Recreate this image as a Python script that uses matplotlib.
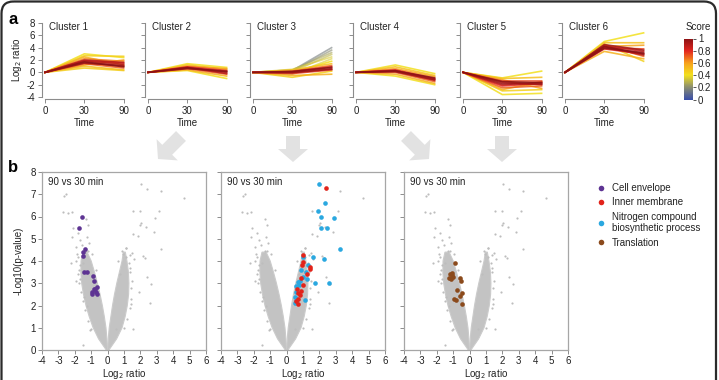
import numpy as np
import matplotlib
matplotlib.use('Agg')
import matplotlib.pyplot as plt
from matplotlib.colors import LinearSegmentedColormap
from matplotlib.patches import FancyBboxPatch, FancyArrow
from matplotlib.lines import Line2D
from matplotlib.cm import ScalarMappable

plt.rcParams['font.family'] = ['Liberation Sans', 'DejaVu Sans']
plt.rcParams['axes.unicode_minus'] = False

# ---------------- panel a: cluster profiles ----------------
# each profile: (log2 ratio at 30 min, log2 ratio at 90 min, score), start is 0 at time 0
time_labels = ['0', '30', '90']
cluster_names = ['Cluster 1', 'Cluster 2', 'Cluster 3', 'Cluster 4', 'Cluster 5', 'Cluster 6']
cluster1 = [(3.0, 2.4, 0.4), (2.7, 2.6, 0.45), (0.7, 0.3, 0.45), (1.0, 0.4, 0.5), (2.5, 1.2, 0.55),
            (1.2, 2.0, 0.6), (2.2, 1.8, 0.65), (1.4, 0.7, 0.7), (1.9, 1.5, 0.8), (1.6, 1.0, 0.85),
            (1.8, 1.3, 0.9), (2.0, 1.6, 0.9), (1.5, 1.1, 0.95), (1.7, 0.9, 1.0)]
cluster2 = [(1.4, 0.8, 0.4), (0.3, -1.0, 0.4), (1.2, 0.5, 0.5), (0.4, -0.6, 0.55), (1.0, 0.6, 0.6),
            (0.6, -0.3, 0.7), (0.9, 0.3, 0.8), (0.7, 0.0, 0.85), (0.8, -0.2, 0.9), (0.6, 0.2, 0.95),
            (0.75, 0.1, 1.0)]
cluster3 = [(0.3, 4.0, 0.15), (0.2, 3.6, 0.2), (0.4, 3.2, 0.25), (0.1, 2.9, 0.3), (0.5, 2.5, 0.35),
            (-0.3, 2.2, 0.35), (0.0, 1.8, 0.4), (-0.8, 0.2, 0.45), (0.4, 1.4, 0.5), (-0.5, -0.3, 0.55),
            (0.2, 1.1, 0.7), (-0.2, 0.4, 0.75), (0.1, 0.9, 0.85), (0.0, 0.6, 0.9), (-0.05, 0.5, 0.95),
            (0.15, 0.8, 1.0)]
cluster4 = [(1.2, -0.2, 0.4), (-0.6, -2.0, 0.4), (0.9, -0.5, 0.5), (-0.3, -1.8, 0.55), (0.6, -0.7, 0.6),
            (0.0, -1.5, 0.7), (0.4, -1.0, 0.8), (0.2, -1.3, 0.85), (0.3, -1.1, 0.9), (0.1, -1.2, 0.95),
            (0.25, -0.9, 1.0)]
cluster5 = [(-3.6, -3.4, 0.4), (-0.9, 0.2, 0.4), (-3.0, -2.8, 0.45), (-1.0, -0.8, 0.5), (-2.8, -1.5, 0.55),
            (-1.2, -2.6, 0.6), (-2.5, -2.2, 0.7), (-1.4, -1.4, 0.75), (-2.2, -1.8, 0.8), (-1.6, -2.0, 0.85),
            (-2.0, -1.6, 0.9), (-1.8, -1.9, 0.95), (-1.5, -1.7, 1.0)]
cluster6 = [(5.0, 6.4, 0.4), (4.6, 1.8, 0.45), (4.8, 4.8, 0.5), (3.4, 2.2, 0.55), (4.2, 4.4, 0.6),
            (4.4, 2.6, 0.7), (4.0, 3.8, 0.75), (3.8, 3.0, 0.8), (4.3, 3.4, 0.85), (4.1, 2.8, 0.9),
            (4.5, 3.6, 0.95), (3.9, 3.2, 1.0), (4.2, 3.0, 1.0)]
clusters = [cluster1, cluster2, cluster3, cluster4, cluster5, cluster6]
log2_ticks = [-4, -2, 0, 2, 4, 6, 8]
score_ticks = [0, 0.2, 0.4, 0.6, 0.8, 1]

# ---------------- panel b: volcano plots (90 vs 30 min) ----------------
# dense V-shaped cloud of proteins: outline of each arm
arm_y = [0.0, 0.5, 1.0, 1.5, 2.0, 2.5, 3.0, 3.5, 4.0, 4.4]
left_outer = [-0.08, -0.55, -0.88, -1.12, -1.32, -1.47, -1.58, -1.63, -1.62, -1.5]
left_inner = [0.0, -0.04, -0.1, -0.2, -0.32, -0.46, -0.62, -0.8, -1.0, -1.25]
right_outer = [0.08, 0.55, 0.88, 1.07, 1.2, 1.28, 1.3, 1.27, 1.18, 1.08]
right_inner = [0.0, 0.04, 0.1, 0.2, 0.3, 0.42, 0.56, 0.72, 0.88, 0.96]

# scattered proteins outside the dense cloud
grey_x = [2.02, 2.42, 3.24, 4.64, 1.55, 1.95, 3.13, 2.87, 2.05, 2.36, 1.95, 2.83, 1.55, 1.85, 3.28,
          1.14, 1.35, 2.26, 2.67, 2.57, 1.55, 2.38, 1.12, 1.5, 1.6, 2.18,
          -2.66, -2.56, -2.7, -2.39, -2.18, -1.32, -1.18, -2.09, -1.79, -2.18, -1.68, -1.28, -1.93,
          -1.18, -1.79, -1.48, -2.25, -1.95, -1.52, -1.07,
          -1.7, -1.8, -1.72, -1.6, -1.52, -1.4, -1.2, -1.02, -1.75, -1.85, -1.55, -1.15, -0.95, -0.72,
          -1.9, -1.68, -1.45, -1.25, -1.3,
          1.42, 1.45, 1.38, 1.2, 1.02, 1.38, 1.3, 0.95, 0.75, 1.5, 0.65, 0.5, 1.9,
          1.45, 1.35, 1.1, 0.9]
grey_y = [7.45, 7.24, 7.15, 6.85, 6.26, 6.26, 6.25, 5.92, 5.69, 5.54, 5.6, 5.32, 5.21, 5.14, 4.54,
          4.57, 4.27, 4.15, 2.97, 2.1, 0.93, 3.29, 4.6, 4.35, 4.1, 4.22,
          6.94, 7.0, 6.19, 6.14, 6.2, 5.87, 5.62, 5.5, 5.24, 5.1, 4.94, 5.09, 4.64,
          4.46, 4.2, 3.9, 3.92, 3.12, 0.22, 0.9,
          3.8, 3.4, 3.0, 2.6, 2.2, 1.8, 1.3, 0.95, 3.6, 4.3, 4.7, 4.8, 4.3, 3.6,
          4.0, 3.2, 2.4, 2.0, 4.45,
          2.8, 2.3, 1.9, 1.4, 1.0, 3.5, 3.9, 4.3, 3.4, 3.1, 4.0, 0.95, 2.6,
          2.05, 3.7, 4.2, 4.45]

cell_env_x = [-1.58, -1.72, -1.35, -1.5, -1.48, -1.42, -1.25, -0.88, -0.8, -0.62, -0.75, -0.68,
              -0.95, -0.95, -0.65, -0.8]
cell_env_y = [6.0, 5.5, 4.55, 4.4, 4.22, 3.5, 3.52, 3.32, 3.12, 2.85, 2.75, 2.62, 2.6, 2.5, 2.5, 2.72]

nitrogen_x = [2.0, 2.36, 1.94, 2.1, 2.87, 2.1, 2.44, 3.25, 2.3, 2.6, 1.76, 1.03, 1.6, 1.33, 0.89, 0.97,
              1.27, 0.69, 0.79, 0.55, 0.55, 0.49, 1.1, 0.49, 1.2, 0.6, 0.75]
nitrogen_y = [7.45, 6.59, 6.26, 5.96, 5.92, 5.47, 5.5, 4.54, 4.1, 3.01, 3.0, 4.17, 4.2, 3.82, 3.6, 3.3,
              3.18, 3.07, 3.1, 2.87, 2.6, 2.4, 2.25, 2.12, 3.5, 2.2, 2.9]
inner_mem_x = [2.4, 0.99, 0.91, 1.43, 1.42, 1.25, 0.88, 0.97, 0.88, 0.7, 0.8, 0.7, 0.55, 0.7, 1.0, 0.62]
inner_mem_y = [7.27, 4.27, 3.8, 3.75, 3.65, 3.42, 3.25, 2.9, 2.66, 2.55, 2.48, 2.3, 2.2, 2.07, 3.95, 2.75]

translation_x = [-0.89, -1.2, -1.1, -1.25, -1.12, -1.0, -1.05, -0.58, -0.55, -0.75, -0.48, -0.6,
                 -0.98, -0.85, -0.48]
translation_y = [3.93, 3.4, 3.48, 3.25, 3.18, 3.28, 3.38, 3.25, 3.12, 2.7, 2.58, 2.42, 2.28, 2.25, 2.07]

# ---------------- styling ----------------
W, H = 719, 380
score_cmap = LinearSegmentedColormap.from_list(
    'score', [(0, '#3a4fa8'), (0.2, '#8a8d70'), (0.4, '#f2e01e'), (0.6, '#f7a11c'),
              (0.8, '#e2251f'), (1.0, '#8a1214')])
spine_col = '#8c8c8c'
txt_col = '#222222'
c_purple, c_red, c_blue, c_brown = '#5e3493', '#e2231a', '#2aa8e0', '#8b4a1c'


def px_axes(fig, left, top, width, height):
    return fig.add_axes([left / W, 1 - (top + height) / H, width / W, height / H])


fig = plt.figure(figsize=(W / 100, H / 100), dpi=100)

# overlay in pixel coordinates: frame, arrows, panel letters
bg = fig.add_axes([0, 0, 1, 1], zorder=-1)
bg.set_xlim(0, W)
bg.set_ylim(H, 0)
bg.axis('off')
bg.add_patch(FancyBboxPatch((1.5, 1.5), 714.5, 420, boxstyle='round,pad=0,rounding_size=12',
                            fc='none', ec='#2b2b2b', lw=1.6))
arrow_kw = dict(width=14, head_width=30, head_length=13, length_includes_head=True,
                fc='#e2e2e2', ec='none')
bg.add_patch(FancyArrow(181, 136, -23, 23, **arrow_kw))
bg.add_patch(FancyArrow(293, 136, 0, 26, **arrow_kw))
bg.add_patch(FancyArrow(406, 136, 23, 23, **arrow_kw))
bg.add_patch(FancyArrow(502, 136, 0, 26, **arrow_kw))
bg.text(13, 20, 'a', fontsize=12, fontweight='bold', va='center', ha='center')
bg.text(13, 168, 'b', fontsize=12, fontweight='bold', va='center', ha='center')

# ---- panel a ----
zero_px = [45, 148, 253, 356, 463, 565]
ux = 39.3       # px per time step
uy = 6.17       # px per log2 unit
for i, (name, prof) in enumerate(zip(cluster_names, clusters)):
    x0 = zero_px[i] - 3
    ax = px_axes(fig, x0, 23 - 0.2 * uy, 2.15 * ux, 12.45 * uy)
    ax.set_xlim(-3 / ux, 2.15 - 3 / ux)
    ax.set_ylim(-4.25, 8.2)
    ax.patch.set_alpha(0)
    for v30, v90, sc in sorted(prof, key=lambda p: p[2]):
        ax.plot([0, 1, 2], [0, v30, v90], color=score_cmap(sc), lw=1.2,
                alpha=0.6 if sc < 0.4 else 0.85, solid_joinstyle='round')
    for s in ['top', 'right']:
        ax.spines[s].set_visible(False)
    ax.spines['left'].set_bounds(-4, 8)
    ax.spines['bottom'].set_bounds(0, 2)
    for s in ['left', 'bottom']:
        ax.spines[s].set_color(spine_col)
        ax.spines[s].set_linewidth(0.8)
    ax.set_xticks([0, 1, 2])
    ax.set_xticklabels(time_labels)
    ax.set_yticks(log2_ticks)
    ax.tick_params(length=3, width=0.7, color=spine_col, labelsize=7, labelcolor=txt_col, pad=2)
    if i == 0:
        ax.set_yticklabels([str(t) for t in log2_ticks])
        ax.set_ylabel('Log$_2$ ratio', fontsize=7, color=txt_col, labelpad=2)
    else:
        ax.set_yticklabels([])
    ax.set_xlabel('Time', fontsize=7, color=txt_col, labelpad=2)
    ax.text(0.08, 0.93, name, transform=ax.transAxes, fontsize=7, color=txt_col, va='center')

# colorbar
cax = px_axes(fig, 684, 38.5, 9, 61)
cb = fig.colorbar(ScalarMappable(cmap=score_cmap, norm=plt.Normalize(0, 1)), cax=cax)
cb.set_ticks(score_ticks)
cb.set_ticklabels(['0', '0.2', '0.4', '0.6', '0.8', '1'])
cb.outline.set_visible(False)
cax.tick_params(length=2.5, width=0.7, color='#555555', labelsize=7, labelcolor=txt_col, pad=1)
bg.text(698, 27, 'Score', fontsize=7, color=txt_col, ha='center', va='center')

# ---- panel b ----
arm_left_x = np.concatenate([left_outer, left_inner[::-1]])
arm_right_x = np.concatenate([right_outer, right_inner[::-1]])
arm_poly_y = np.concatenate([arm_y, arm_y[::-1]])
highlights = [
    [(cell_env_x, cell_env_y, c_purple)],
    [(nitrogen_x, nitrogen_y, c_blue), (inner_mem_x, inner_mem_y, c_red)],
    [(translation_x, translation_y, c_brown)],
]
for i, left in enumerate([42, 221, 404]):
    ax = px_axes(fig, left, 172, 164, 178)
    ax.set_xlim(-4, 6)
    ax.set_ylim(0, 8)
    ax.fill(arm_left_x, arm_poly_y, color='#c3c3c3', lw=0.8, ec='#cbcbcb')
    ax.fill(arm_right_x, arm_poly_y, color='#c3c3c3', lw=0.8, ec='#cbcbcb')
    ax.scatter(grey_x, grey_y, s=2.5, color='#bdbdbd', linewidths=0)
    for hx, hy, col in highlights[i]:
        ax.scatter(hx, hy, s=11, color=col, linewidths=0, zorder=3)
    for s in ax.spines.values():
        s.set_color('#a6a6a6')
        s.set_linewidth(0.9)
    ax.set_xticks(range(-4, 7))
    ax.set_yticks(range(0, 9))
    ax.tick_params(length=3, width=0.7, color=spine_col, labelsize=7, labelcolor=txt_col, pad=1.5)
    if i > 0:
        ax.set_yticklabels([])
    else:
        ax.set_ylabel('-Log10(p-value)', fontsize=7, color=txt_col, labelpad=5)
    ax.set_xlabel('Log$_2$ ratio', fontsize=7, color=txt_col, labelpad=0.5)
    ax.text(0.037, 0.945, '90 vs 30 min', transform=ax.transAxes, fontsize=7, color=txt_col,
            va='center')

handles = [Line2D([], [], ls='none', marker='o', ms=4, mec='none', mfc=c)
           for c in [c_purple, c_red, c_blue, c_brown]]
labels = ['Cell envelope', 'Inner membrane', 'Nitrogen compound\nbiosynthetic process', 'Translation']
fig.legend(handles, labels, loc='upper left', bbox_to_anchor=(596 / W, 1 - 183 / H), frameon=False,
           fontsize=7, handletextpad=0.6, labelspacing=0.45, handlelength=1.0, borderaxespad=0,
           borderpad=0, labelcolor=txt_col)

fig.savefig('out.png', dpi=100)
